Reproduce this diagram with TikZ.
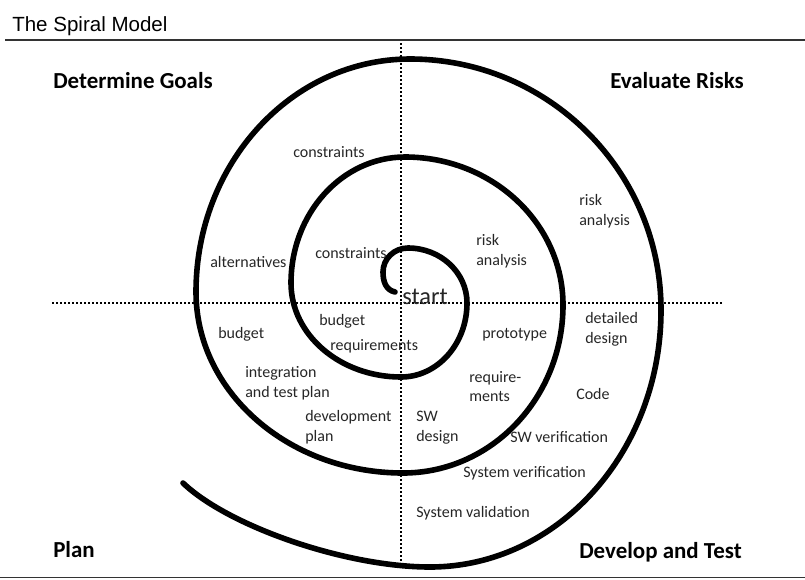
\documentclass[tikz,border=0pt]{standalone}
\usepackage{fontspec}
\setmainfont{Carlito}
\newfontfamily\titlefont{Liberation Sans}
\begin{document}
\begin{tikzpicture}[x=0.75pt,y=-0.75pt,
  lbl/.style={anchor=base west,inner sep=0pt,font=\fontsize{12}{14}\selectfont,text=black!85},
  hdr/.style={anchor=base west,inner sep=0pt,font=\fontsize{17.2}{20}\selectfont\bfseries},
  axisline/.style={line width=1.3pt,dash pattern=on 1.2pt off 1.8pt},
  spiral/.style={line width=4.2pt,line cap=round,line join=round},
  rule/.style={line width=0.9pt,black!80}]
\useasboundingbox (0,0) rectangle (805,579);
% rules
\draw[rule] (5,40) -- (805,40);
\draw[rule,line width=1.4pt] (0,577.5) -- (805,577.5);
% title
\node[anchor=base west,inner sep=0pt,font=\titlefont\fontsize{15.4}{18}\selectfont] (title) at (12,31) {The Spiral Model};
% axes
\coordinate (vtop) at (401,43);
\coordinate (vbot) at (401,566);
\coordinate (hl) at (52,303);
\coordinate (hr) at (722,303);
\draw[axisline] (vtop) -- (vbot);
\draw[axisline] (hl) -- (hr);
% spiral
\draw[spiral] (395,292) .. controls (386,290) and (383,282) .. (383,272)
 .. controls (383,258.7) and (394.2,248) .. (408,248)
 .. controls (440.6,248) and (467,272.6) .. (467,303)
 .. controls (467,343.9) and (437.5,377) .. (401,377)
 .. controls (340.2,377) and (291,334.9) .. (291,283)
 .. controls (291,213.4) and (342,157) .. (405,157)
 .. controls (492.3,157) and (563,223.3) .. (563,305)
 .. controls (563,397.8) and (491.4,473) .. (403,473)
 .. controls (288.7,473) and (196,392) .. (196,292)
 .. controls (196,163.3) and (291.8,59) .. (410,59)
 .. controls (548.6,59) and (661,171.4) .. (661,310)
 .. controls (661,451.9) and (557.6,567) .. (430,567)
 .. controls (345,567) and (228,526) .. (183,483);
% headings
\node[hdr] (goals) at (53,88) {Determine Goals};
\node[hdr] (risks) at (610,88) {Evaluate Risks};
\node[hdr] (plan) at (53,557) {Plan};
\node[hdr] (devtest) at (579,558) {Develop and Test};
% start
\node[anchor=base west,inner sep=0pt,font=\fontsize{18.3}{20}\selectfont,text=black!85] (start) at (402,304) {start};
% labels
\node[lbl] (con1) at (293,157) {constraints};
\node[lbl] (con2) at (315,258) {constraints};
\node[lbl] (alt) at (210,267) {alternatives};
\node[lbl] (ra1a) at (579,205) {risk};
\node[lbl] (ra1b) at (579,225) {analysis};
\node[lbl] (ra2a) at (476,245) {risk};
\node[lbl] (ra2b) at (476,265) {analysis};
\node[lbl] (bud1) at (218,338) {budget};
\node[lbl] (bud2) at (319,325) {budget};
\node[lbl] (req) at (330,350) {requirements};
\node[lbl] (itpa) at (245,377) {integration};
\node[lbl] (itpb) at (245,397) {and test plan};
\node[lbl] (dpa) at (305,421) {development};
\node[lbl] (dpb) at (305,441) {plan};
\node[lbl] (dda) at (585,323) {detailed};
\node[lbl] (ddb) at (585,343) {design};
\node[lbl] (proto) at (482,338) {prototype};
\node[lbl] (rqa) at (469,382) {require-};
\node[lbl] (rqb) at (469,401) {ments};
\node[lbl] (code) at (576,399) {Code};
\node[lbl] (swda) at (416,421) {SW};
\node[lbl] (swdb) at (416,441) {design};
\node[lbl] (swv) at (510,442) {SW verification};
\node[lbl] (sysv) at (463,477) {System verification};
\node[lbl] (sysval) at (416,517) {System validation};
\end{tikzpicture}
\end{document}
